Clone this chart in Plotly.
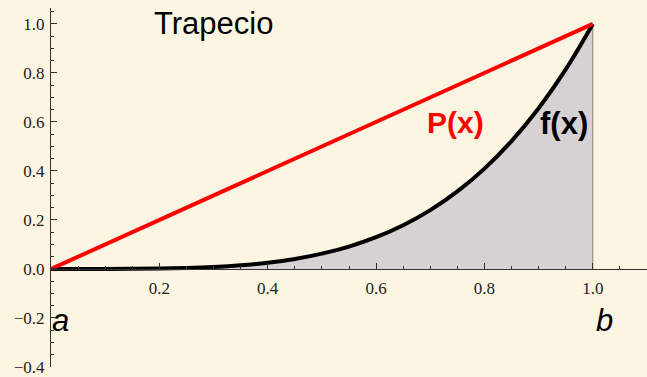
import plotly.graph_objects as go

# f(x) sampled on [0, 1]
x_vals = [0.00, 0.05, 0.10, 0.15, 0.20, 0.25, 0.30, 0.35, 0.40, 0.45, 0.50,
          0.55, 0.60, 0.65, 0.70, 0.75, 0.80, 0.85, 0.90, 0.95, 1.00]
f_vals = [0.0000, 0.0000, 0.0001, 0.0005, 0.0016, 0.0039, 0.0081, 0.0150,
          0.0256, 0.0410, 0.0625, 0.0915, 0.1296, 0.1785, 0.2401, 0.3164,
          0.4096, 0.5220, 0.6561, 0.8145, 1.0000]

# straight-line interpolant P(x) through the endpoints
p_x = [0.0, 1.0]
p_y = [0.0, 1.0]

x_ticks = [0.2, 0.4, 0.6, 0.8, 1.0]
x_tick_text = ["0.2", "0.4", "0.6", "0.8", "1.0"]
y_ticks = [-0.4, -0.2, 0.0, 0.2, 0.4, 0.6, 0.8, 1.0]
y_tick_text = ["\u22120.4", "\u22120.2", "0.0", "0.2", "0.4", "0.6", "0.8", "1.0"]

x_range = [0.0, 1.1]
y_range = [-0.4, 1.065]

BG = "#fcf5e2"
AXIS = "#333333"
TICK_FONT = dict(family="Liberation Serif", size=17, color="#222222")

fig = go.Figure()

# shaded area under f(x)
fig.add_trace(go.Scatter(
    x=x_vals, y=f_vals, mode="lines", line=dict(width=0, shape="spline"),
    fill="tozeroy", fillcolor="#d6d1d3", hoverinfo="skip", showlegend=False))

# right edge of the shaded region
fig.add_trace(go.Scatter(
    x=[x_vals[-1], x_vals[-1]], y=[0, f_vals[-1]], mode="lines",
    line=dict(color="#808080", width=1), hoverinfo="skip", showlegend=False))

# f(x)
fig.add_trace(go.Scatter(
    x=x_vals, y=f_vals, mode="lines",
    line=dict(color="black", width=4, shape="spline"), showlegend=False))

# P(x)
fig.add_trace(go.Scatter(
    x=p_x, y=p_y, mode="lines",
    line=dict(color="#ff0000", width=4), showlegend=False))

x_axis_pos = (0 - y_range[0]) / (y_range[1] - y_range[0])

fig.update_layout(
    width=647, height=377,
    margin=dict(l=51, r=0, t=8, b=10),
    paper_bgcolor=BG, plot_bgcolor=BG,
    xaxis=dict(
        range=x_range, anchor="free", position=x_axis_pos,
        showgrid=False, zeroline=False,
        showline=True, linecolor=AXIS, linewidth=1,
        tickmode="array", tickvals=x_ticks, ticktext=x_tick_text,
        ticks="inside", ticklen=6, tickwidth=1, tickcolor=AXIS,
        minor=dict(dtick=0.05, tick0=0, ticks="inside", ticklen=3,
                   tickwidth=1, tickcolor=AXIS, showgrid=False),
        tickfont=TICK_FONT, ticklabelstandoff=4,
        layer="above traces",
    ),
    yaxis=dict(
        range=y_range, showgrid=False, zeroline=False,
        showline=True, linecolor=AXIS, linewidth=1,
        tickmode="array", tickvals=y_ticks, ticktext=y_tick_text,
        ticks="inside", ticklen=6, tickwidth=1, tickcolor=AXIS,
        minor=dict(dtick=0.05, tick0=0, ticks="inside", ticklen=3,
                   tickwidth=1, tickcolor=AXIS, showgrid=False),
        tickfont=TICK_FONT, ticklabelstandoff=2,
        layer="above traces",
    ),
    showlegend=False,
)

annotations = [
    dict(x=0.299, y=1.0, text="Trapecio",
         font=dict(family="Liberation Sans", size=31, color="black")),
    dict(x=0.747, y=0.596, text="<b>P(x)</b>",
         font=dict(family="Liberation Sans", size=30, color="#ff0000")),
    dict(x=0.946, y=0.592, text="<b>f(x)</b>",
         font=dict(family="Liberation Sans", size=31, color="black")),
    dict(x=0.018, y=-0.21, text="<i>a</i>",
         font=dict(family="Liberation Sans", size=31, color="black")),
    dict(x=1.022, y=-0.21, text="<i>b</i>",
         font=dict(family="Liberation Sans", size=31, color="black")),
]
for a in annotations:
    fig.add_annotation(xref="x", yref="y", showarrow=False,
                       xanchor="center", yanchor="middle", **a)

fig.write_html("out.html")
